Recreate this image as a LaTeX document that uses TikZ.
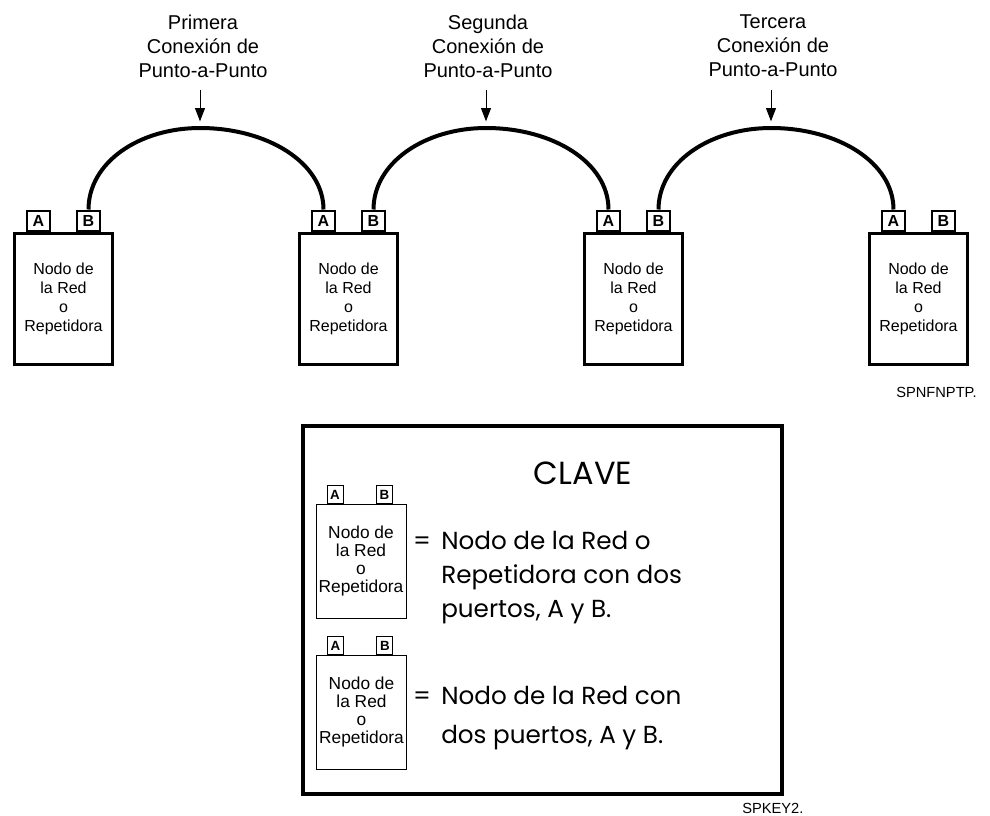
\documentclass[tikz,border=0pt]{standalone}
\usepackage{fontspec}
\setmainfont{Liberation Sans}
\newfontfamily\clavefont{Poppins}
\usetikzlibrary{arrows.meta,positioning}
\tikzset{
  nodo/.style={draw,line width=2.25pt,minimum width=73.5pt,minimum height=98.25pt,inner sep=0pt,align=center,font=\fontsize{12}{14.25}\selectfont},
  puerto/.style={draw,line width=1.5pt,minimum width=17.25pt,minimum height=15pt,inner sep=0pt,font=\fontsize{12}{12}\selectfont\bfseries},
  nodoclave/.style={draw,line width=0.75pt,minimum width=67.5pt,minimum height=85.5pt,inner sep=0pt,align=center,font=\fontsize{13}{13.5}\selectfont},
  puertoclave/.style={draw,line width=0.75pt,minimum width=12pt,minimum height=13.5pt,inner sep=0pt,font=\fontsize{10}{10}\selectfont\bfseries},
  enlace/.style={line width=3pt},
  flecha/.style={-{Triangle[width=7.5pt,length=10pt]},line width=0.75pt,shorten <=6pt,shorten >=5pt},
  titulo/.style={align=center,font=\fontsize{15}{18}\selectfont},
  clavetexto/.style={anchor=west,align=left,inner sep=0pt,font=\clavefont\fontsize{18.5}{25.5}\selectfont},
  codigo/.style={anchor=west,inner sep=0pt,font=\fontsize{11}{11}\selectfont}
}
\begin{document}
\begin{tikzpicture}[x=0.75pt,y=-0.75pt]
\useasboundingbox (0,0) rectangle (990,815);
\node[titulo] (l1) at (203,46) {Primera\\Conexión de\\Punto-a-Punto};
\node[titulo] (l2) at (488,46) {Segunda\\Conexión de\\Punto-a-Punto};
\node[titulo] (l3) at (773,46) {Tercera\\Conexión de\\Punto-a-Punto};
\coordinate (t1) at (200,128);
\coordinate (t2) at (486,128);
\coordinate (t3) at (771,128);
\node[nodo] (n1) at (63.5,298.5) {Nodo de\\la Red\\o\\Repetidora};
\node[nodo] (n2) at (348.5,298.5) {Nodo de\\la Red\\o\\Repetidora};
\node[nodo] (n3) at (633.5,298.5) {Nodo de\\la Red\\o\\Repetidora};
\node[nodo] (n4) at (918.5,298.5) {Nodo de\\la Red\\o\\Repetidora};
\node[puerto,above=0pt of n1.north,xshift=-18.75pt] (n1a) {A};
\node[puerto,above=0pt of n1.north,xshift=18.75pt] (n1b) {B};
\node[puerto,above=0pt of n2.north,xshift=-18.75pt] (n2a) {A};
\node[puerto,above=0pt of n2.north,xshift=18.75pt] (n2b) {B};
\node[puerto,above=0pt of n3.north,xshift=-18.75pt] (n3a) {A};
\node[puerto,above=0pt of n3.north,xshift=18.75pt] (n3b) {B};
\node[puerto,above=0pt of n4.north,xshift=-18.75pt] (n4a) {A};
\node[puerto,above=0pt of n4.north,xshift=18.75pt] (n4b) {B};
\draw[enlace] (n1b.north) .. controls +(0,-47) and +(-61,0) .. (t1) .. controls +(67,0) and +(0,-47) .. (n2a.north);
\draw[enlace] (n2b.north) .. controls +(0,-47) and +(-61,0) .. (t2) .. controls +(67,0) and +(0,-47) .. (n3a.north);
\draw[enlace] (n3b.north) .. controls +(0,-47) and +(-61,0) .. (t3) .. controls +(67,0) and +(0,-47) .. (n4a.north);
\draw[flecha] (l1.south -| t1) -- (t1);
\draw[flecha] (l2.south -| t2) -- (t2);
\draw[flecha] (l3.south -| t3) -- (t3);
\node[codigo] (c1) at (896,392) {SPNFNPTP.};
\draw[line width=3pt] (303,426) rectangle (782,794);
\node[font=\clavefont\fontsize{24}{24}\selectfont] (clave) at (583,473) {CLAVE};
\node[nodoclave] (k1) at (361,561.5) {Nodo de\\la Red\\o\\Repetidora};
\node[puertoclave,above=0pt of k1.north,xshift=-19.5pt] (k1a) {A};
\node[puertoclave,above=0pt of k1.north,xshift=17.5pt] (k1b) {B};
\node[font=\clavefont\fontsize{18.5}{18.5}\selectfont] (ig1) at (422,543) {=};
\node[clavetexto] (d1) at (441,578) {Nodo de la Red o\\Repetidora con dos\\puertos, A y B.};
\node[nodoclave] (k2) at (361.5,712.5) {Nodo de\\la Red\\o\\Repetidora};
\node[puertoclave,above=0pt of k2.north,xshift=-19.5pt] (k2a) {A};
\node[puertoclave,above=0pt of k2.north,xshift=17.5pt] (k2b) {B};
\node[font=\clavefont\fontsize{18.5}{18.5}\selectfont] (ig2) at (422,698) {=};
\node[clavetexto,font=\clavefont\fontsize{18.5}{29}\selectfont] (d2) at (441,718) {Nodo de la Red con\\dos puertos, A y B.};
\node[codigo] (c2) at (742,808) {SPKEY2.};
\end{tikzpicture}
\end{document}
